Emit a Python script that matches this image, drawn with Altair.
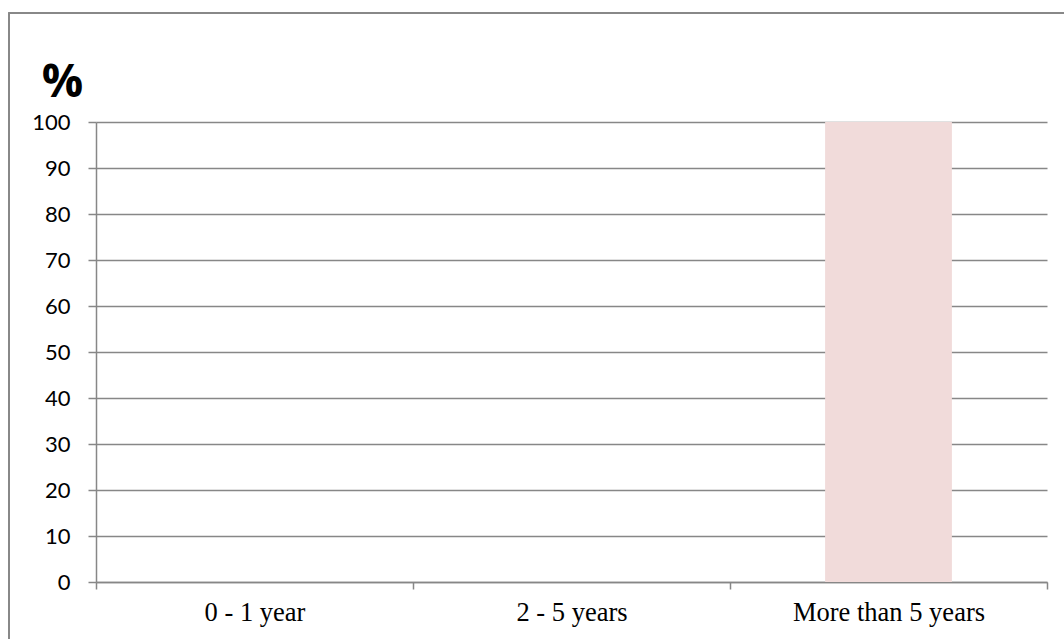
import altair as alt
import pandas as pd

# Share of respondents by length of time
categories = ["0 - 1 year", "2 - 5 years", "More than 5 years"]
percent = [0, 0, 100]
y_ticks = [0, 10, 20, 30, 40, 50, 60, 70, 80, 90, 100]

df = pd.DataFrame({"period": categories, "pct": percent})

GRID = "#878787"

bars = alt.Chart(df).mark_bar(
    color="#f1dbda", width=alt.RelativeBandSize(0.4)
).encode(
    x=alt.X(
        "period:N",
        sort=categories,
        scale=alt.Scale(paddingInner=0, paddingOuter=0),
        axis=alt.Axis(
            title=None,
            labelAngle=0,
            labelFont="Liberation Serif",
            labelFontSize=26.5,
            labelColor="#000000",
            labelPadding=10,
            labelLimit=0,
            tickBand="extent",
            tickSize=7,
            tickColor=GRID,
            tickWidth=1.5,
            domainColor=GRID,
            domainWidth=1.5,
            grid=False,
        ),
    ),
    y=alt.Y(
        "pct:Q",
        scale=alt.Scale(domain=[0, 100], nice=False),
        axis=alt.Axis(
            values=y_ticks,
            title="%",
            titleAngle=0,
            titleFont="Open Sans",
            titleFontWeight="bold",
            titleFontSize=46,
            titleColor="#000000",
            titleAlign="center",
            titleBaseline="middle",
            titleX=-34,
            titleY=-40,
            labelFont="Lato",
            labelFontSize=22,
            labelColor="#000000",
            labelPadding=18,
            tickSize=8,
            tickColor=GRID,
            tickWidth=1.5,
            domainColor=GRID,
            domainWidth=1.5,
            gridColor=GRID,
            gridWidth=1.5,
        ),
    ),
)

# Outer chart frame
frame = alt.Chart(df).mark_rect(
    fill=None, stroke=GRID, strokeWidth=1.5
).encode(
    x=alt.value(-87), x2=alt.value(1100),
    y=alt.value(-109), y2=alt.value(620),
)

chart = alt.layer(frame, bars).properties(
    width=951,
    height=460,
    autosize=alt.AutoSizeParams(type="none"),
    padding={"left": 96, "top": 122, "right": 17, "bottom": 57},
    background="#ffffff",
).configure_view(stroke=None)

chart.save("out.html", embed_options={"renderer": "svg", "actions": False})
